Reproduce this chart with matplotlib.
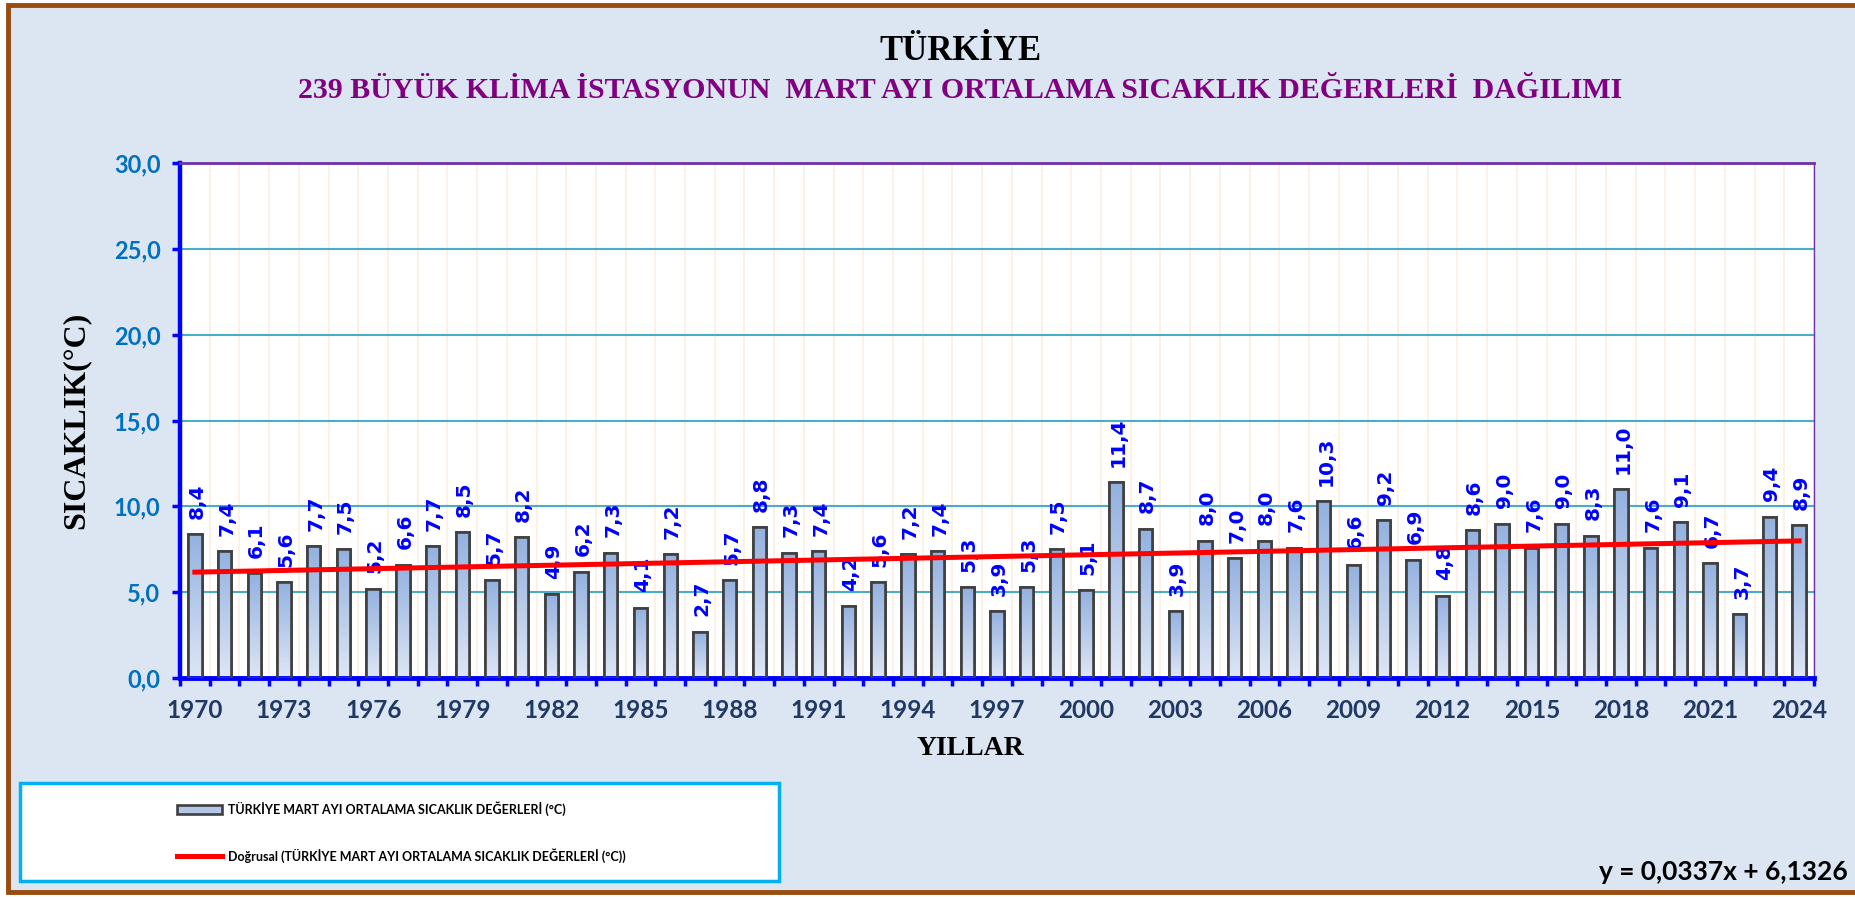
import numpy as np
import matplotlib
matplotlib.use("Agg")
import matplotlib.pyplot as plt
from matplotlib.patches import Rectangle
from matplotlib.colors import LinearSegmentedColormap

# data
years = list(range(1970, 2025))
temps = [8.4, 7.4, 6.1, 5.6, 7.7, 7.5, 5.2, 6.6, 7.7, 8.5,
         5.7, 8.2, 4.9, 6.2, 7.3, 4.1, 7.2, 2.7, 5.7, 8.8,
         7.3, 7.4, 4.2, 5.6, 7.2, 7.4, 5.3, 3.9, 5.3, 7.5,
         5.1, 11.4, 8.7, 3.9, 8.0, 7.0, 8.0, 7.6, 10.3, 6.6,
         9.2, 6.9, 4.8, 8.6, 9.0, 7.6, 9.0, 8.3, 11.0, 7.6,
         9.1, 6.7, 3.7, 9.4, 8.9]
trend_slope = 0.0337
trend_intercept = 6.1326
yticks = [0, 5, 10, 15, 20, 25, 30]

bar_label = "TÜRKİYE MART AYI ORTALAMA SICAKLIK DEĞERLERİ (°C)"
trend_label = "Doğrusal (TÜRKİYE MART AYI ORTALAMA SICAKLIK DEĞERLERİ (°C))"

W, H = 1856, 897
fig = plt.figure(figsize=(W / 100, H / 100), dpi=100, facecolor="white")

# panel background + brown frame
fig.patches.append(Rectangle((8 / W, 5 / H), 1.0, 887 / H, transform=fig.transFigure,
                             facecolor="#dce6f2", edgecolor="#9a4c10", lw=3.5, zorder=-10))

ax = fig.add_axes([180 / W, 1 - 678 / H, 1634 / W, 515 / H])
ax.set_facecolor("white")

x = np.arange(len(years))
bw = 0.45
bars = ax.bar(x, temps, width=bw, color="#b4c7e7", edgecolor="#404040", lw=1.9,
              zorder=2, label=bar_label)

# gradient fill inside bars
cmap = LinearSegmentedColormap.from_list("g", ["#dde6f5", "#93b1e0"])
grad = np.linspace(0, 1, 100).reshape(-1, 1)
for b in bars:
    bx = b.get_x()
    im = ax.imshow(grad, cmap=cmap, origin="lower", aspect="auto",
                   extent=[bx, bx + b.get_width(), 0, b.get_height()], zorder=2.2)
    im.set_clip_path(b)
ax.bar(x, temps, width=bw, facecolor="none", edgecolor="#404040", lw=1.9, zorder=3)

# trend line
n = np.arange(1, len(years) + 1)
trend, = ax.plot(x, trend_slope * n + trend_intercept, color="#ff0000", lw=3.6,
                 zorder=5, label=trend_label)

# data labels
for xi, v in zip(x, temps):
    ax.annotate(f"{v:.1f}".replace(".", ","), (xi, v), xytext=(1.5, 11),
                textcoords="offset points", rotation=90, ha="center", va="bottom",
                color="#0000ff", fontsize=14.5, fontweight="bold",
                family="DejaVu Sans", zorder=4)

ax.set_xlim(-0.5, len(years) - 0.5)
ax.set_ylim(0, 30)

ax.set_yticks(yticks)
ax.set_yticklabels([f"{t:.1f}".replace(".", ",") for t in yticks])
lbl_idx = list(range(0, len(years), 3))
ax.set_xticks(lbl_idx)
ax.set_xticklabels([str(years[i]) for i in lbl_idx])
ax.set_xticks(np.arange(-0.5, len(years), 1), minor=True)

ax.tick_params(axis="y", which="major", direction="out", length=6, width=2.5,
               color="#0000ff", pad=8, labelsize=17, labelcolor="#0070c0")
ax.tick_params(axis="x", which="major", length=0, pad=15, labelsize=17.5,
               labelcolor="#1f3864")
ax.tick_params(axis="x", which="minor", direction="out", length=6, width=2.5,
               color="#0000ff")
for lab in ax.get_xticklabels() + ax.get_yticklabels():
    lab.set_fontweight("bold")
    lab.set_family("Lato")

ax.grid(axis="y", which="major", color="#4bacc6", lw=1.5, zorder=1)
ax.grid(axis="x", which="minor", color="#fdeee2", lw=1.2, zorder=1)
ax.set_axisbelow(True)

ax.spines["left"].set_color("#0000ff")
ax.spines["left"].set_linewidth(3.2)
ax.spines["bottom"].set_color("#0000ff")
ax.spines["bottom"].set_linewidth(3.5)
ax.spines["top"].set_color("#7030a0")
ax.spines["top"].set_linewidth(2)
ax.spines["right"].set_color("#7030a0")
ax.spines["right"].set_linewidth(1)

ax.set_ylabel("SICAKLIK(°C)", family="Liberation Serif", fontweight="bold",
              fontsize=23, color="black")
ax.yaxis.set_label_coords(-0.0545, 0.5)
ax.set_xlabel("YILLAR", family="Liberation Serif", fontweight="bold",
              fontsize=20, color="black")
ax.xaxis.set_label_coords((970 - 180) / 1634, -0.112)

# titles
fig.text(960 / W, 1 - 52 / H, "TÜRKİYE", ha="center", va="center",
         family="Liberation Serif", fontweight="bold", fontsize=25, color="black")
fig.text(960 / W, 1 - 90 / H,
         "239 BÜYÜK KLİMA İSTASYONUN  MART AYI ORTALAMA SICAKLIK DEĞERLERİ  DAĞILIMI",
         ha="center", va="center", family="Liberation Serif", fontweight="bold",
         fontsize=21.5, color="#800080")

# legend box
fig.patches.append(Rectangle((20 / W, 1 - 881 / H), 759 / W, 98 / H, transform=fig.transFigure,
                             facecolor="white", edgecolor="#00b0f0", lw=2.5, zorder=-5))
fig.legend([bars, trend], [bar_label, trend_label], loc="center left",
           bbox_to_anchor=(171 / W, 1 - 832 / H),
           frameon=False, borderpad=0, handlelength=3.6, handleheight=0.7,
           handletextpad=0.45, labelspacing=2.6,
           prop={"family": "Lato", "weight": "bold", "size": 9})

# trend equation
fig.text(1848 / W, 1 - 872 / H, "y = 0,0337x + 6,1326", ha="right", va="center",
         family="Lato", fontweight="bold", fontsize=19, color="black")

fig.savefig("out.png", dpi=100)
